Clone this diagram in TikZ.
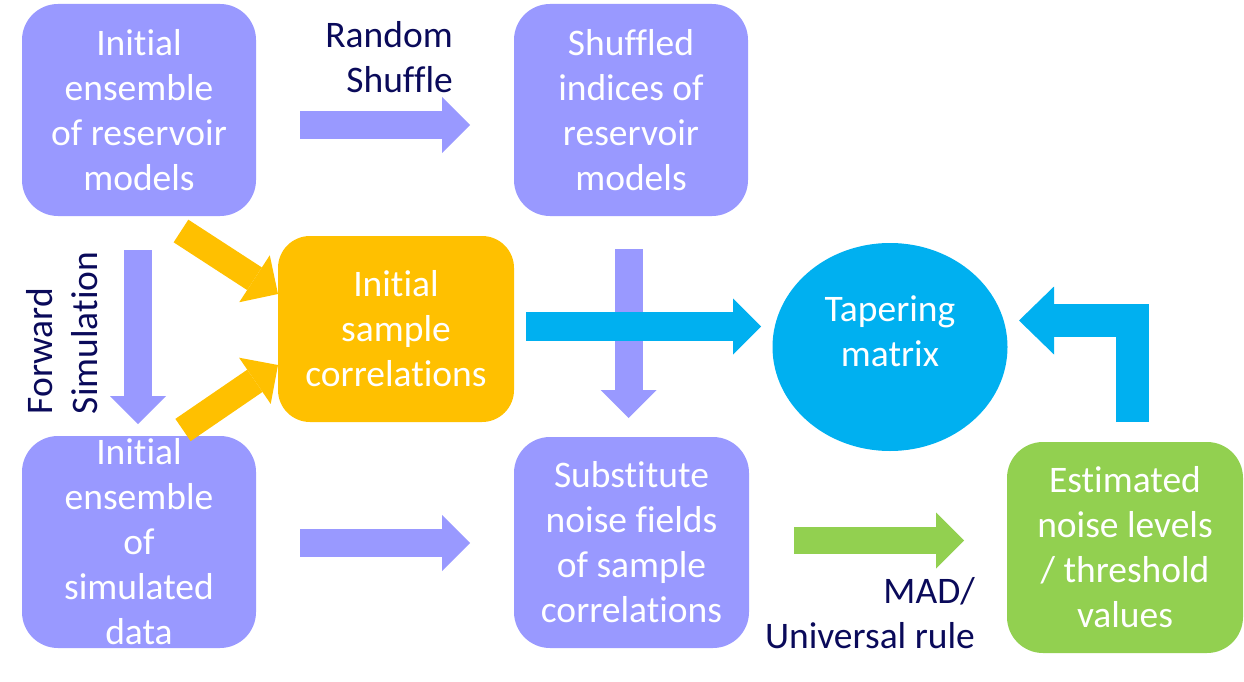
\documentclass[tikz,border=0pt]{standalone}
\usepackage{fontspec}
\setmainfont{Carlito}[Ligatures=NoCommon]
\usetikzlibrary{arrows.meta,shapes.geometric}
\definecolor{pur}{HTML}{9999FF}
\definecolor{org}{HTML}{FFC000}
\definecolor{blu}{HTML}{00B0F0}
\definecolor{grn}{HTML}{92D050}
\definecolor{navy}{RGB}{10,10,90}
\begin{document}
\begin{tikzpicture}[x=1pt,y=-1pt,
  box/.style={rectangle, rounded corners=36pt, inner sep=0pt, text=white, align=center,
    font=\fontsize{37.5}{45}\selectfont},
  boxtext/.style={inner sep=0pt, text=white, align=center, font=\fontsize{37.5}{45}\selectfont},
  lbl/.style={inner sep=0pt, text=navy, font=\fontsize{37.5}{45}\selectfont},
  barrow/.style={line width=28pt, line cap=butt,
    -{Triangle[length=28pt,width=56pt,line width=0pt]}},
  warrow/.style={line width=33pt, line cap=butt, line join=miter,
    -{Triangle[length=35pt,width=68pt,line width=0pt]}}]
\useasboundingbox (0,0) rectangle (1244,682);
% boxes
\node[box, fill=pur, minimum width=234pt, minimum height=212pt] (A) at (139,110)
  {Initial\\ensemble\\of reservoir\\models};
\node[box, fill=pur, minimum width=234pt, minimum height=212pt] (B) at (631,110)
  {Shuffled\\indices of\\reservoir\\models};
\node[box, fill=org, rounded corners=32pt, minimum width=236pt, minimum height=186pt] (C) at (396,329)
  {Initial\\sample\\correlations};
\node[box, fill=pur, minimum width=234pt, minimum height=212pt] (D) at (139,542)
  {Initial\\ensemble\\of\\simulated\\data};
\node[box, fill=pur, minimum width=235pt, minimum height=211pt] (E) at (631.5,542.5)
  {Substitute\\noise fields\\of sample\\correlations};
\node[box, fill=grn, minimum width=236pt, minimum height=211pt] (F) at (1125,547.5)
  {Estimated\\noise levels\\/ threshold\\values};
\node[ellipse, fill=blu, inner sep=0pt, minimum width=235pt, minimum height=208pt] (T) at (890,347) {};
\node[boxtext] (Tt) at (890,331) {Tapering\\matrix};
% labels
\node[lbl, align=right, anchor=east] (rs) at (453,57) {Random\\Shuffle};
\node[lbl, align=left, rotate=90] (fs) at (62,333) {Forward\\Simulation};
\node[lbl, align=right, anchor=east] (mad) at (975,613.5) {MAD/\\Universal rule};
% arrow coordinates
\coordinate (a1s) at (300,125);   \coordinate (a1e) at (470,125);
\coordinate (a2s) at (138,250);   \coordinate (a2e) at (138,424);
\coordinate (a3s) at (628.5,249); \coordinate (a3e) at (628.5,418);
\coordinate (a4s) at (526,326.5); \coordinate (a4e) at (761,326.5);
\coordinate (a5s) at (300,543);   \coordinate (a5e) at (470,543);
\coordinate (a6s) at (794,540.5); \coordinate (a6e) at (964,540.5);
\coordinate (o1s) at (181,231);   \coordinate (o1e) at (278,294);
\coordinate (o2s) at (183,430);   \coordinate (o2e) at (278,365);
\coordinate (bs) at (1132.5,422); \coordinate (bm) at (1132.5,320.5); \coordinate (be) at (1019,320.5);
% arrows
\draw[barrow, pur] (a1s) -- (a1e);
\draw[barrow, pur] (a2s) -- (a2e);
\draw[barrow, pur] (a3s) -- (a3e);
\draw[barrow, line width=29pt, blu] (a4s) -- (a4e);
\draw[barrow, pur] (a5s) -- (a5e);
\draw[barrow, line width=27pt, grn] (a6s) -- (a6e);
\draw[barrow, line width=27pt, org] (o1s) -- (o1e);
\draw[barrow, line width=27pt, org] (o2s) -- (o2e);
\draw[warrow, blu] (bs) -- (bm) -- (be);
\end{tikzpicture}
\end{document}
